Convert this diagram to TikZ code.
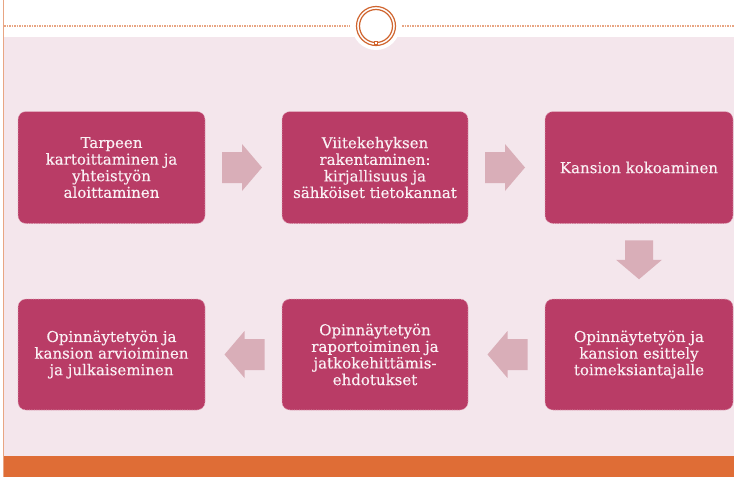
\documentclass[tikz,border=0pt]{standalone}
\usepackage{fontspec}
\setmainfont{DejaVu Serif}
\newfontfamily\boxfont{DejaVu Serif}[FakeBold=0.35]
\usetikzlibrary{calc}
\definecolor{bgpink}{HTML}{F4E6EC}
\definecolor{boxfill}{HTML}{B93C66}
\definecolor{boxedge}{HTML}{E2A9BC}
\definecolor{arrowfill}{HTML}{D9AEB8}
\definecolor{orangeband}{HTML}{DF6D36}
\definecolor{ringcol}{HTML}{D0652F}
\definecolor{dashcol}{HTML}{E8A583}
\definecolor{txtcol}{HTML}{FAF0F4}
\tikzset{
  stepbox/.style={rectangle, rounded corners=8pt, fill=boxfill, draw=boxedge,
    line width=0.7pt, densely dotted, minimum height=112pt, text=txtcol,
    align=center, inner sep=2pt,
    font=\boxfont\fontsize{15}{16.6}\selectfont},
  blockarrow/.style={fill=arrowfill, draw=none}
}
% horizontal block arrow centred on #1, pointing right (rotate 0) or left (180)
\newcommand{\harrow}[2]{%
  \fill[blockarrow, shift={(#1)}, rotate=#2]
    (-20,-15.5) -- (0,-15.5) -- (0,-23.5) -- (20,0) -- (0,23.5) -- (0,15.5) -- (-20,15.5) -- cycle;}
\begin{document}
\begin{tikzpicture}[x=1pt,y=-1pt]
\useasboundingbox (0,0) rectangle (734,477);
\fill[white] (0,0) rectangle (734,477);
\fill[bgpink] (4,37) rectangle (734,456);
\fill[orangeband] (4,456) rectangle (734,477);
\draw[dashcol, line width=1pt] (3.5,0) -- (3.5,477);
\draw[dashcol, line width=1.2pt, dash pattern=on 1.5pt off 1pt] (4,26) -- (350,26);
\draw[dashcol, line width=1.2pt, dash pattern=on 1.5pt off 1pt] (402,26) -- (734,26);
\fill[white] (376,26) circle (24);
\draw[ringcol, line width=1.2pt] (376,26) circle (19.5);
\draw[ringcol, line width=1.2pt] (376,26) circle (16.5);
\draw[ringcol, line width=0.8pt, fill=white] (374.5,41.5) rectangle (377.5,44.5);

\node[stepbox, minimum width=187pt] (b1) at (111.5,167.5) {Tarpeen\\kartoittaminen ja\\yhteistyön\\aloittaminen};
\node[stepbox, minimum width=186pt] (b2) at (375,167.5) {Viitekehyksen\\rakentaminen:\\kirjallisuus ja\\sähköiset tietokannat};
\node[stepbox, minimum width=188pt] (b3) at (639,167.5) {Kansion kokoaminen};
\node[stepbox, minimum width=188pt, minimum height=111pt] (b6) at (639,354.5) {Opinnäytetyön ja\\kansion esittely\\toimeksiantajalle};
\node[stepbox, minimum width=186pt, minimum height=111pt] (b5) at (375,354.5) {Opinnäytetyön\\raportoiminen ja\\jatkokehittämis-\\ehdotukset};
\node[stepbox, minimum width=187pt, minimum height=111pt] (b4) at (111.5,354.5) {Opinnäytetyön ja\\kansion arvioiminen\\ja julkaiseminen};

\coordinate (a12) at ($(b1.east)!0.5!(b2.west)+(-1.5,0)$);
\coordinate (a23) at ($(b2.east)!0.5!(b3.west)+(-1.5,0)$);
\coordinate (a36) at ($(b3.south)!0.5!(b6.north)+(0,-1.5)$);
\coordinate (a65) at ($(b6.west)!0.5!(b5.east)+(1,0)$);
\coordinate (a54) at ($(b5.west)!0.5!(b4.east)+(1,0)$);
\harrow{a12}{0}
\harrow{a23}{0}
\harrow{a65}{180}
\harrow{a54}{180}
\fill[blockarrow, shift={(a36)}]
  (-14,-19.5) -- (14,-19.5) -- (14,0) -- (23,0) -- (0,19.5) -- (-23,0) -- (-14,0) -- cycle;
\end{tikzpicture}
\end{document}
